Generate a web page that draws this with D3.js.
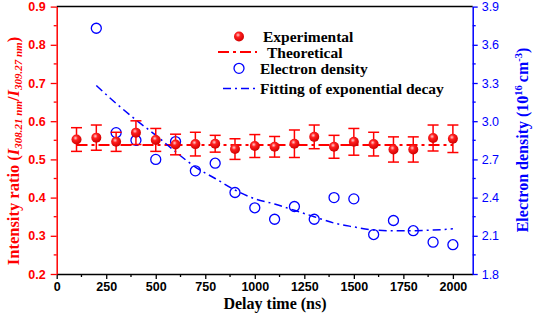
<!DOCTYPE html>
<html>
<head>
<meta charset="utf-8">
<script src="https://cdn.jsdelivr.net/npm/d3@7"></script>
<style>
  body { margin: 0; background: #fff; }
  svg { display: block; }
</style>
</head>
<body>
<div id="chart"></div>
<script>
// delay times (ns)
var delays = [100, 200, 300, 400, 500, 600, 700, 800, 900, 1000, 1100, 1200, 1300, 1400, 1500, 1600, 1700, 1800, 1900, 2000];
// intensity ratio, experimental
var ratio = [0.552, 0.557, 0.546, 0.570, 0.551, 0.539, 0.540, 0.541, 0.527, 0.535, 0.533, 0.541, 0.559, 0.533, 0.546, 0.540, 0.526, 0.526, 0.556, 0.554];
var ratioErr = [0.031, 0.033, 0.025, 0.031, 0.030, 0.027, 0.031, 0.022, 0.027, 0.030, 0.027, 0.036, 0.031, 0.030, 0.035, 0.031, 0.033, 0.033, 0.034, 0.036];
var theoretical = 0.538;
// electron density (10^16 cm^-3)
var densDelays = [200, 300, 400, 500, 600, 700, 800, 900, 1000, 1100, 1200, 1300, 1400, 1500, 1600, 1700, 1800, 1900, 2000];
var density = [3.73, 2.91, 2.85, 2.70, 2.84, 2.61, 2.67, 2.44, 2.32, 2.23, 2.33, 2.23, 2.40, 2.39, 2.11, 2.22, 2.14, 2.05, 2.03];
// fitted curve
var fitDelays = [200, 300, 400, 500, 600, 700, 800, 900, 1000, 1100, 1200, 1300, 1400, 1500, 1600, 1700, 1800, 1900, 2000];
var fitDensity = [3.28, 3.14, 3.01, 2.89, 2.76, 2.64, 2.55, 2.46, 2.39, 2.35, 2.30, 2.25, 2.20, 2.17, 2.145, 2.14, 2.14, 2.145, 2.155];

var xTicks = [0, 250, 500, 750, 1000, 1250, 1500, 1750, 2000];
var yLeftTicks = [0.2, 0.3, 0.4, 0.5, 0.6, 0.7, 0.8, 0.9];
var yRightTicks = [1.8, 2.1, 2.4, 2.7, 3.0, 3.3, 3.6, 3.9];

var width = 533, height = 314;
var margin = {top: 6.6, right: 60.3, bottom: 40, left: 56.7};
var red = "#ff0000", blue = "#0000ff";
var sans = "Liberation Sans, Arial, sans-serif";
var serif = "Liberation Serif, Times New Roman, serif";

var svg = d3.select("#chart").append("svg")
    .attr("width", width)
    .attr("height", height);

var x = d3.scaleLinear().domain([0, 2100]).range([margin.left, width - margin.right]);
var yL = d3.scaleLinear().domain([0.2, 0.9]).range([height - margin.bottom, margin.top]);
var yR = d3.scaleLinear().domain([1.8, 3.9]).range([height - margin.bottom, margin.top]);

var defs = svg.append("defs");
var grad = defs.append("radialGradient").attr("id", "ball")
    .attr("cx", "40%").attr("cy", "35%").attr("r", "65%");
grad.append("stop").attr("offset", "0%").attr("stop-color", "#ffd0d0");
grad.append("stop").attr("offset", "35%").attr("stop-color", "#ff2020");
grad.append("stop").attr("offset", "100%").attr("stop-color", "#d00000");

// top frame line
svg.append("line")
    .attr("x1", x.range()[0]).attr("x2", x.range()[1])
    .attr("y1", margin.top).attr("y2", margin.top)
    .attr("stroke", "#000").attr("stroke-width", 1.5);

// bottom axis
var xAxis = svg.append("g")
    .attr("transform", "translate(0," + yL.range()[0] + ")")
    .call(d3.axisBottom(x).tickValues(xTicks).tickFormat(d3.format("d")).tickSize(5).tickSizeOuter(0).tickPadding(3));
xAxis.append("g").selectAll("line")
    .data(d3.range(125, 2100, 250))
    .enter().append("line")
    .attr("x1", d => x(d)).attr("x2", d => x(d))
    .attr("y1", 0).attr("y2", 3);
xAxis.select(".domain").attr("stroke", "#000").attr("stroke-width", 1.5);
xAxis.selectAll("line").attr("stroke", "#000").attr("stroke-width", 1.3);
xAxis.selectAll("text")
    .attr("font-family", sans)
    .attr("font-weight", "bold").attr("font-size", 12.5).attr("fill", "#000");

// left axis
var leftAxis = svg.append("g")
    .attr("transform", "translate(" + x.range()[0] + ",0)")
    .call(d3.axisLeft(yL).tickValues(yLeftTicks).tickFormat(d3.format(".1f")).tickSize(6).tickSizeOuter(0).tickPadding(5));
leftAxis.append("g").selectAll("line")
    .data(d3.range(0.25, 0.9, 0.1))
    .enter().append("line")
    .attr("x1", 0).attr("x2", -3)
    .attr("y1", d => yL(d)).attr("y2", d => yL(d));
leftAxis.select(".domain").attr("stroke", red).attr("stroke-width", 1.5);
leftAxis.selectAll("line").attr("stroke", red).attr("stroke-width", 1.3);
leftAxis.selectAll("text")
    .attr("font-family", sans)
    .attr("font-weight", "bold").attr("font-size", 12.5).attr("fill", red);

// right axis
var rightAxis = svg.append("g")
    .attr("transform", "translate(" + x.range()[1] + ",0)")
    .call(d3.axisRight(yR).tickValues(yRightTicks).tickFormat(d3.format(".1f")).tickSize(5).tickSizeOuter(0).tickPadding(4));
rightAxis.append("g").selectAll("line")
    .data(d3.range(1.95, 3.9, 0.3))
    .enter().append("line")
    .attr("x1", 0).attr("x2", 3)
    .attr("y1", d => yR(d)).attr("y2", d => yR(d));
rightAxis.select(".domain").attr("stroke", blue).attr("stroke-width", 1.5);
rightAxis.selectAll("line").attr("stroke", blue).attr("stroke-width", 1.3);
rightAxis.selectAll("text")
    .attr("font-family", sans)
    .attr("font-size", 12.5).attr("fill", blue);

// axis titles
svg.append("text")
    .attr("x", 275).attr("y", 309)
    .attr("text-anchor", "middle")
    .attr("font-family", serif)
    .attr("font-weight", "bold").attr("font-size", 16)
    .text("Delay time (ns)");

var lt = svg.append("text")
    .attr("transform", "translate(19,151) rotate(-90)")
    .attr("text-anchor", "middle")
    .attr("font-family", serif)
    .attr("font-weight", "bold").attr("font-size", 16.5)
    .attr("fill", red);
lt.append("tspan").text("Intensity ratio (");
lt.append("tspan").attr("font-style", "italic").text("I");
lt.append("tspan").attr("font-style", "italic").attr("font-size", 11).attr("dy", 3).text("308.21 nm");
lt.append("tspan").attr("dy", -3).text("/");
lt.append("tspan").attr("font-style", "italic").text("I");
lt.append("tspan").attr("font-style", "italic").attr("font-size", 11).attr("dy", 3).text("309.27 nm");
lt.append("tspan").attr("dy", -3).text(")");

var rt = svg.append("text")
    .attr("transform", "translate(528,140) rotate(-90)")
    .attr("text-anchor", "middle")
    .attr("font-family", serif)
    .attr("font-weight", "bold").attr("font-size", 16)
    .attr("fill", blue);
rt.append("tspan").text("Electron density (10");
rt.append("tspan").attr("font-size", 10.5).attr("dy", -6).text("16");
rt.append("tspan").attr("dy", 6).attr("dx", 3).text("cm");
rt.append("tspan").attr("font-size", 10.5).attr("dy", -6).text("-3");
rt.append("tspan").attr("dy", 6).text(")");

// theoretical line
svg.append("line")
    .attr("x1", x(delays[0])).attr("x2", x(delays[delays.length - 1]))
    .attr("y1", yL(theoretical)).attr("y2", yL(theoretical))
    .attr("stroke", red).attr("stroke-width", 2)
    .attr("stroke-dasharray", "11,4,3,4");

// fit line
var fitLine = d3.line()
    .x((d, i) => x(fitDelays[i]))
    .y(d => yR(d))
    .curve(d3.curveMonotoneX);
svg.append("path")
    .datum(fitDensity)
    .attr("d", fitLine)
    .attr("fill", "none")
    .attr("stroke", blue).attr("stroke-width", 1.5)
    .attr("stroke-dasharray", "8,4,2,4");

// electron density circles
svg.append("g").selectAll("circle")
    .data(density)
    .enter().append("circle")
    .attr("cx", (d, i) => x(densDelays[i]))
    .attr("cy", d => yR(d))
    .attr("r", 5)
    .attr("fill", "none")
    .attr("stroke", blue).attr("stroke-width", 1.3);

// error bars
var eb = svg.append("g").attr("stroke", red).attr("stroke-width", 1.5);
ratio.forEach(function(v, i) {
    var cx = x(delays[i]);
    eb.append("line").attr("x1", cx).attr("x2", cx)
        .attr("y1", yL(v - ratioErr[i])).attr("y2", yL(v + ratioErr[i]));
    eb.append("line").attr("x1", cx - 5.5).attr("x2", cx + 5.5)
        .attr("y1", yL(v - ratioErr[i])).attr("y2", yL(v - ratioErr[i]));
    eb.append("line").attr("x1", cx - 5.5).attr("x2", cx + 5.5)
        .attr("y1", yL(v + ratioErr[i])).attr("y2", yL(v + ratioErr[i]));
});

// experimental points
svg.append("g").selectAll("circle")
    .data(ratio)
    .enter().append("circle")
    .attr("cx", (d, i) => x(delays[i]))
    .attr("cy", d => yL(d))
    .attr("r", 5)
    .attr("fill", "url(#ball)");

// legend
var lg = svg.append("g")
    .attr("font-family", serif)
    .attr("font-weight", "bold").attr("font-size", 15.5);
lg.append("circle").attr("cx", 239).attr("cy", 36.5).attr("r", 5).attr("fill", "url(#ball)");
lg.append("text").attr("x", 263).attr("y", 41.5).text("Experimental");
lg.append("line").attr("x1", 218).attr("x2", 257).attr("y1", 52).attr("y2", 52)
    .attr("stroke", red).attr("stroke-width", 2).attr("stroke-dasharray", "11,4,3,4");
lg.append("text").attr("x", 267).attr("y", 57.5).text("Theoretical");
lg.append("circle").attr("cx", 239).attr("cy", 68.3).attr("r", 5)
    .attr("fill", "none").attr("stroke", blue).attr("stroke-width", 1.3);
lg.append("text").attr("x", 260).attr("y", 74).text("Electron density");
lg.append("line").attr("x1", 223).attr("x2", 257).attr("y1", 88.5).attr("y2", 88.5)
    .attr("stroke", blue).attr("stroke-width", 1.5).attr("stroke-dasharray", "8,4,2,4");
lg.append("text").attr("x", 260).attr("y", 94).text("Fitting of exponential decay");
</script>
</body>
</html>
